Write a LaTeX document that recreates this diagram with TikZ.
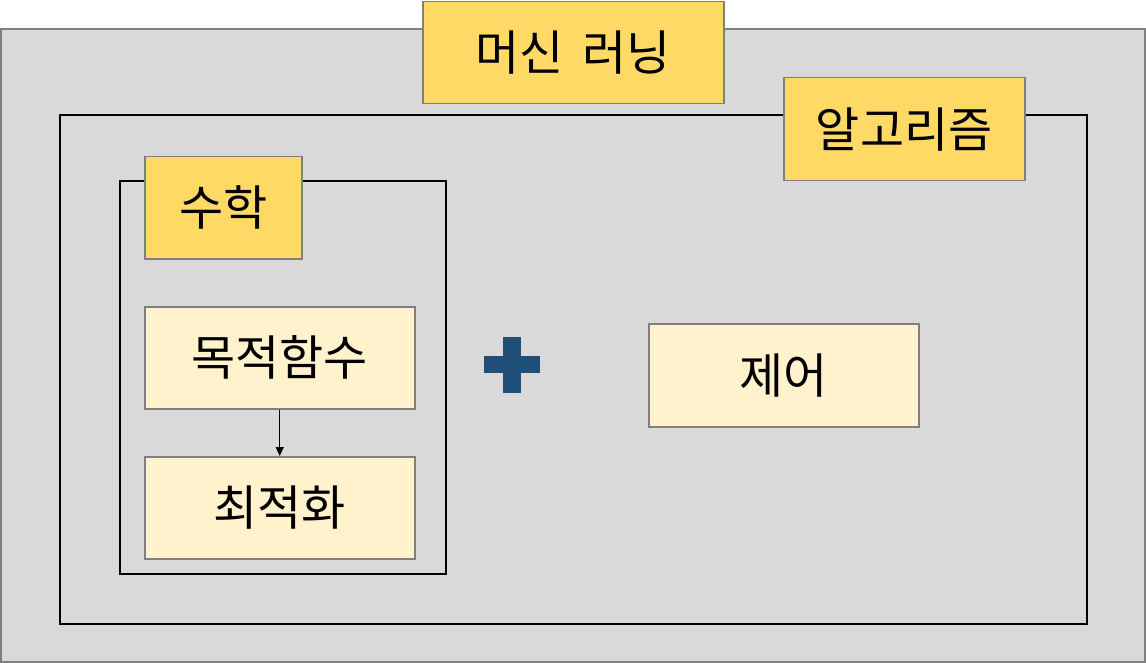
\documentclass[tikz,border=0pt]{standalone}
\usepackage{fontspec}
\setmainfont{Noto Sans CJK KR}
\usetikzlibrary{arrows.meta}
\definecolor{bggray}{HTML}{D9D9D9}
\definecolor{edgegray}{HTML}{7F7F7F}
\definecolor{gold}{HTML}{FFD966}
\definecolor{cream}{HTML}{FFF2CC}
\definecolor{navy}{HTML}{1F4E79}
\tikzset{
  px/.style={x=1pt,y=-1pt},
  labelbox/.style={draw=edgegray, line width=1.5pt, fill=gold},
  itembox/.style={draw=edgegray, line width=1.5pt, fill=cream},
  frame/.style={draw=black, line width=1.8pt},
  txt/.style={font=\fontsize{48}{50}\selectfont, inner sep=0pt},
}
\begin{document}
\begin{tikzpicture}[px]
\useasboundingbox (0,0) rectangle (1146,663);
% outer
\draw[draw=edgegray, line width=2pt, fill=bggray] (1,29) rectangle (1145,662);
\node[labelbox, minimum width=301pt, minimum height=102pt, anchor=north west] (ml) at (422,1) {};
\node[txt] (mlt) at (ml.center) {머신\hspace{0.4em}러닝};
% algorithm frame
\draw[frame] (60,115) rectangle (1087,624);
\node[labelbox, minimum width=241pt, minimum height=103pt, anchor=north west] (alg) at (783,77) {};
\node[txt] (algt) at (alg.center) {알고리즘};
% math frame
\draw[frame] (120,181) rectangle (446,574);
\node[labelbox, minimum width=157pt, minimum height=102pt, anchor=north west] (math) at (144,156) {};
\node[txt] (matht) at (math.center) {수학};
% items
\node[itembox, minimum width=270pt, minimum height=102pt, anchor=north west] (obj) at (144,306) {};
\node[txt] (objt) at (obj.center) {목적함수};
\node[itembox, minimum width=270pt, minimum height=102pt, anchor=north west] (opt) at (144,456) {};
\node[txt] (optt) at (opt.center) {최적화};
\draw[-{Triangle[length=9pt,width=8pt]}, line width=1pt] (obj.south) -- (opt.north);
\node[itembox, minimum width=270pt, minimum height=103pt, anchor=north west] (ctl) at (648,323) {};
\node[txt] (ctlt) at (ctl.center) {제어};
% plus
\fill[navy] (484,356) rectangle (540,373);
\fill[navy] (503,337) rectangle (521,393);
\end{tikzpicture}
\end{document}
